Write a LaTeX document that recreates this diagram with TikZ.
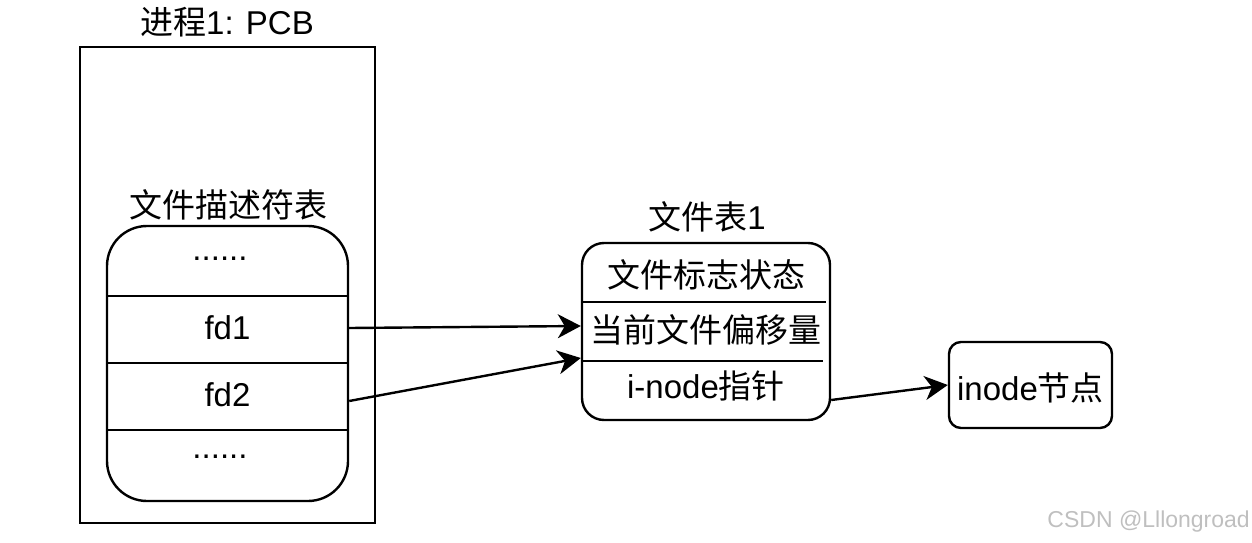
\documentclass[tikz,border=0pt]{standalone}
\usepackage{fontspec}
\setmainfont{Liberation Sans}
\newfontfamily\cjk{Noto Sans CJK SC}
\usetikzlibrary{arrows.meta,calc}
\begin{document}
\begin{tikzpicture}[x=1pt,y=-1pt,
  box/.style={draw,line width=2.4pt,inner sep=0pt},
  lbl/.style={font=\fontsize{33}{36}\selectfont,inner sep=0pt},
  divider/.style={line width=2.2pt},
  conn/.style={line width=2.4pt,-{Stealth[length=23pt,width=24pt,inset=7pt]}}]
\useasboundingbox (0,0) rectangle (1252,543);
% PCB
\node[box,minimum width=295pt,minimum height=476pt] (pcb) at (227.5,285) {};
\node[lbl] (pcbt) at (227,22) {{\cjk 进程}1: PCB};
% file descriptor table
\node[lbl] (fdtt) at (228,205) {\cjk 文件描述符表};
\node[box,rounded corners=40pt,minimum width=241pt,minimum height=275pt] (fdt) at (227.5,363.5) {};
\draw[divider] (107,296) -- (348,296);
\draw[divider] (107,363) -- (348,363);
\draw[divider] (107,430) -- (348,430);
\node[lbl] (r0) at (220,259) {......};
\node[lbl] (fd1) at (227.5,328) {fd1};
\node[lbl] (fd2) at (227.5,395) {fd2};
\node[lbl] (r3) at (220,457) {......};
% file table 1
\node[lbl] (ftt) at (707,217) {{\cjk 文件表}1};
\node[box,rounded corners=22pt,minimum width=248pt,minimum height=177pt] (ft) at (706,331.5) {};
\draw[divider] (583,302) -- (826,302);
\draw[divider] (583,361) -- (823,361);
\node[lbl] (f1) at (706,275) {\cjk 文件标志状态};
\node[lbl] (f2) at (706,330) {\cjk 当前文件偏移量};
\node[lbl] (f3) at (706,386) {i-node{\cjk 指针}};
% inode
\node[box,rounded corners=12pt,minimum width=163pt,minimum height=86pt] (inode) at (1030.5,385) {};
\node[lbl] (inodet) at (1030.5,388) {inode{\cjk 节点}};
% connectors
\draw[conn] (fdt.east |- fd1) -- ([yshift=5.5pt]ft.west);
\draw[conn] ([yshift=-6pt]fdt.east |- fd2) -- ([yshift=-26.5pt]ft.west);
\draw[conn] ([yshift=-68.5pt]ft.east) -- (inode.west);
% watermark
\node[font=\fontsize{23}{25}\selectfont,text=gray!50,inner sep=0pt,anchor=east] (wm) at (1250,522) {CSDN @Lllongroad};
\end{tikzpicture}
\end{document}
